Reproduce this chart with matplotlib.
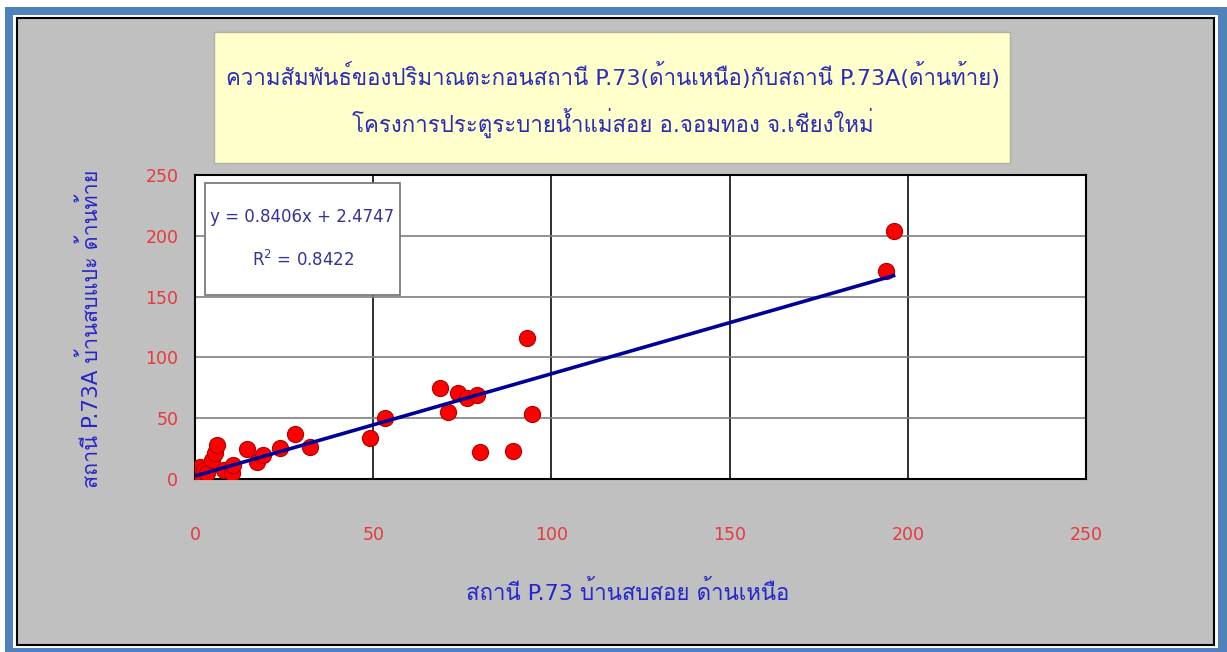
import numpy as np
from matplotlib import pyplot as plt
from matplotlib import font_manager
from matplotlib.ft2font import FT2Font
from matplotlib.patches import Rectangle


# data
x_p73  = [0.5, 1.4, 2.5, 3.5, 4.7, 5.6, 6.1, 8.0, 10.3, 10.8, 14.5, 17.3, 19.2, 23.9,
          28.1, 32.3, 49.1, 53.3, 68.7, 71.1, 73.9, 76.2, 79.0, 80.0, 89.3, 93.1,
          94.5, 194.0, 196.0]
y_p73a = [6.0, 10.0, 7.0, 5.0, 15.6, 21.0, 28.0, 7.4, 4.7, 11.5, 24.3, 14.2, 19.7, 25.2,
          37.0, 26.6, 33.5, 49.9, 74.6, 55.4, 70.5, 66.4, 69.0, 22.0, 23.3, 115.7,
          53.5, 171.0, 204.0]
slope, intercept, r2 = 0.8406, 2.4747, 0.8422

title1 = 'ความสัมพันธ์ของปริมาณตะกอนสถานี P.73(ด้านเหนือ)กับสถานี P.73A(ด้านท้าย)'
title2 = 'โครงการประตูระบายน้ำแม่สอย อ.จอมทอง จ.เชียงใหม่'
xlab   = 'สถานี P.73 บ้านสบสอย ด้านเหนือ'
ylab   = 'สถานี P.73A บ้านสบแปะ ด้านท้าย'
ticks  = [0, 50, 100, 150, 200, 250]


#find a font that has Thai glyphs
def thai_font():
    for f in font_manager.fontManager.ttflist:
        try:
            if 0x0E01 in FT2Font(f.fname).get_charmap():
                return f.name
        except Exception:
            pass
    return 'DejaVu Sans'

fam = ['DejaVu Sans', thai_font()]
plt.rcParams['font.family'] = fam


W, H = 1227, 652
fig = plt.figure(figsize=(W/100, H/100), dpi=100)
fig.patch.set_facecolor('white')

def box(x0, y0, x1, y1, **kw):
    # pixel box (top-left origin) -> figure coords
    r = Rectangle((x0/W, 1-y1/H), (x1-x0)/W, (y1-y0)/H, transform=fig.transFigure, **kw)
    fig.patches.append(r)

box(5, 7, 1240, 660, facecolor='#4F81BD', edgecolor='none', zorder=-3)
box(13, 15, 1218, 648, facecolor='white', edgecolor='none', zorder=-3)
box(17, 18, 1214, 645, facecolor='#C0C0C0', edgecolor='black', lw=1.5, zorder=-2)
box(214, 32, 1010, 163, facecolor='#FFFFCC', edgecolor='#B0B0A0', lw=1, zorder=-1)

blue = '#2B2BB8'
fig.text(613/W, 1-75/H, title1, ha='center', va='center', fontsize=16, color=blue)
fig.text(613/W, 1-123/H, title2, ha='center', va='center', fontsize=16, color=blue)
fig.text(628/W, 1-592/H, xlab, ha='center', va='center', fontsize=16, color='#2626CC')
fig.text(90/W, 1-329/H, ylab, ha='center', va='center', fontsize=15.5, color='#2626CC',
         rotation=90)


#axes:
ax = fig.add_axes([195/W, 1-479/H, (1086-195)/W, (479-175)/H])
ax.set_zorder(1)
ax.set_facecolor('white')
ax.set_xlim(0, 250)
ax.set_ylim(0, 250)
ax.set_xticks(ticks)
ax.set_yticks(ticks)
red = '#E8383D'
ax.tick_params(axis='x', length=0, pad=34, labelsize=12.5, labelcolor=red)
ax.tick_params(axis='y', length=0, pad=12, labelsize=12.5, labelcolor=red)
for s in ax.spines.values():
    s.set_color('black'); s.set_linewidth(1.5)

ax.xaxis.grid(True, color='#202020', lw=1.3)
ax.yaxis.grid(True, color='#808080', lw=1.2)
ax.set_axisbelow(True)

ax.scatter(x_p73, y_p73a, s=135, color='#FF0000', edgecolor='#B00000', lw=0.8, zorder=3)
xx = np.array([min(x_p73), max(x_p73)])
ax.plot(xx, slope*xx + intercept, color='#000099', lw=2.6, zorder=4)


#equation box:
box(205, 183, 400, 295, facecolor='white', edgecolor='#707070', lw=1.2, zorder=5)
fig.text(302/W, 1-217/H, f'y = {slope:.4f}x + {intercept:.4f}', ha='center', va='center',
         fontsize=12, color='#333399', zorder=6)
fig.text(303/W, 1-260/H, f'R$^2$ = {r2:.4f}', ha='center', va='center',
         fontsize=12, color='#333399', zorder=6)

plt.savefig('out.png', dpi=100)
